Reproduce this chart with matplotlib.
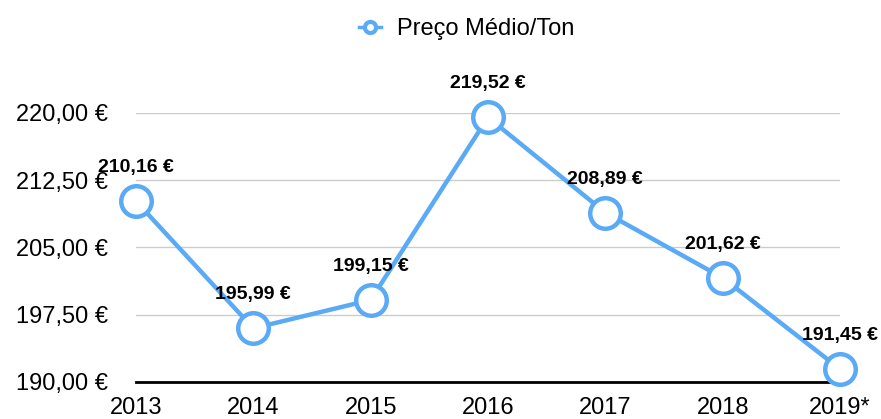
import matplotlib.pyplot as plt
from matplotlib.lines import Line2D

plt.rcParams['font.family'] = ['Liberation Sans', 'DejaVu Sans']

years = ["2013", "2014", "2015", "2016", "2017", "2018", "2019*"]
prices = [210.16, 195.99, 199.15, 219.52, 208.89, 201.62, 191.45]
yticks = [190.0, 197.5, 205.0, 212.5, 220.0]
blue = "#5AAAF5"


def euro(v):
    return f"{v:,.2f} €".replace(",", "X").replace(".", ",").replace("X", ".")


fig = plt.figure(figsize=(8.81, 4.19), dpi=100)
ax = fig.add_axes([136 / 881, 1 - 382 / 419, (840 - 136) / 881, (382 - 113) / 419])

x = list(range(len(years)))
ax.plot(x, prices, color=blue, lw=3.2, marker="o", ms=22, mfc="white",
        mec=blue, mew=3.2, clip_on=False, zorder=3)

for xi, v in zip(x, prices):
    ax.annotate(euro(v), (xi, v), xytext=(0, 24), textcoords="offset points",
                ha="center", va="center", fontsize=14, fontweight="bold", zorder=4)

ax.set_xlim(0, len(years) - 1)
ax.set_ylim(190, 220)
ax.set_yticks(yticks)
ax.set_yticklabels([euro(v) for v in yticks])
ax.set_xticks(x)
ax.set_xticklabels(years)
ax.tick_params(axis="y", length=0, pad=20, labelsize=17)
ax.tick_params(axis="x", length=0, pad=11, labelsize=17)
ax.grid(axis="y", color="#cccccc", lw=1)
ax.set_axisbelow(True)
for s in ["top", "right", "left"]:
    ax.spines[s].set_visible(False)
ax.spines["bottom"].set_linewidth(2)
ax.spines["bottom"].set_zorder(2.5)

handle = Line2D([], [], color=blue, lw=2.5, marker="o", ms=8, mfc="white", mec=blue, mew=3)
fig.legend([handle], ["Preço Médio/Ton"], loc="center", bbox_to_anchor=(0.53, 1 - 29 / 419),
           frameon=False, fontsize=17, handlelength=0.9, handletextpad=0.7)

fig.savefig("out.png", dpi=100)
